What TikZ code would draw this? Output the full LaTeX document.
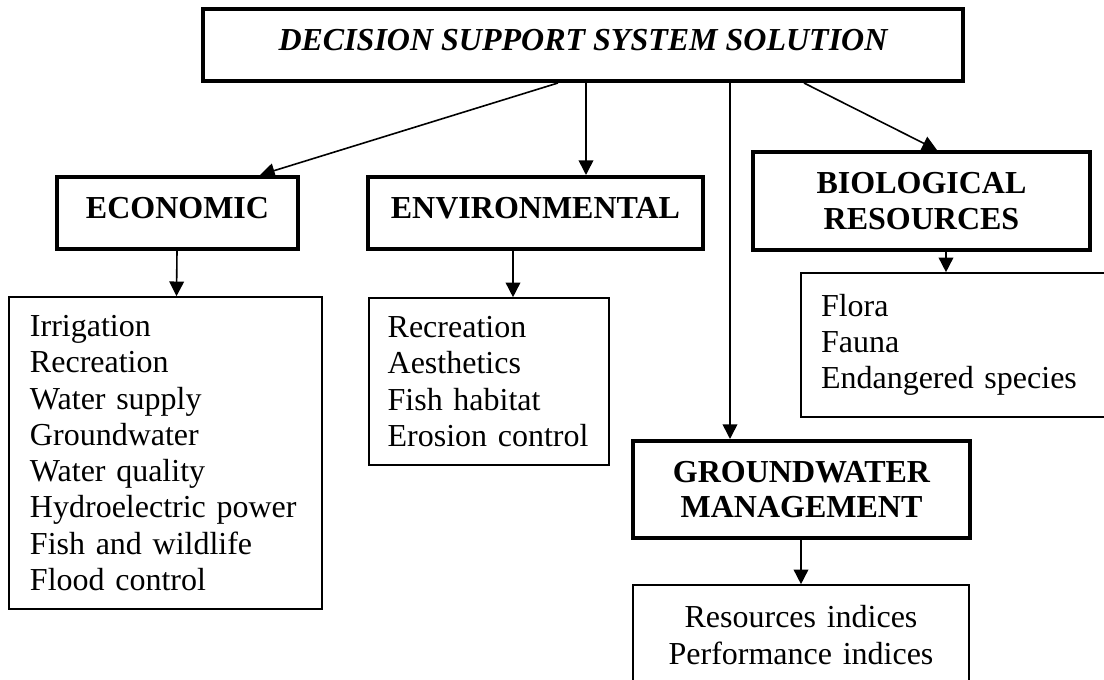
\documentclass[tikz,border=0pt]{standalone}
\usepackage{fontspec}
\setmainfont{Liberation Serif}
\usetikzlibrary{arrows.meta}
\begin{document}
\begin{tikzpicture}[x=0.75pt,y=-0.75pt,
  headbox/.style={draw, line width=3pt, inner sep=0pt, align=center,
    font=\fontsize{24}{26.5}\selectfont\bfseries},
  listbox/.style={draw, line width=1.2pt, inner ysep=0pt, align=left,
    font=\fontsize{24}{27.2}\selectfont},
  arr/.style={line width=1.2pt, -{Triangle[length=11pt,width=11pt]}}]
\useasboundingbox (0,0) rectangle (1104,680);

% heading boxes
\node[headbox, minimum width=570pt, minimum height=54pt, text depth=7pt,
  font=\fontsize{24}{27.2}\selectfont\bfseries\itshape] (top) at (583,45)
  {DECISION SUPPORT SYSTEM SOLUTION};
\node[headbox, minimum width=180.75pt, minimum height=54pt, text depth=7pt]
  (econ) at (177.5,213) {ECONOMIC};
\node[headbox, minimum width=251.25pt, minimum height=54pt, text depth=7pt]
  (env) at (535.5,213) {ENVIRONMENTAL};
\node[headbox, minimum width=252.75pt, minimum height=73.5pt]
  (bio) at (921.5,201) {BIOLOGICAL\\RESOURCES};
\node[headbox, minimum width=252.75pt, minimum height=72.75pt]
  (gw) at (801.5,489.5) {GROUNDWATER\\MANAGEMENT};

% list boxes
\node[listbox, minimum width=234.75pt, minimum height=234pt,
  inner xsep=15.75pt, text width=203.25pt] (econlist) at (165.5,453)
  {Irrigation\\Recreation\\Water supply\\Groundwater\\Water quality\\Hydroelectric power\\Fish and wildlife\\Flood control};
\node[listbox, minimum width=180pt, minimum height=125.25pt,
  inner xsep=14pt, text width=152pt] (envlist) at (489,381.5)
  {Recreation\\Aesthetics\\Fish habitat\\Erosion control};
\node[listbox, minimum width=240pt, minimum height=108pt,
  inner xsep=15pt, text width=210pt] (biolist) at (961,345)
  {Flora\\Fauna\\Endangered species};
\node[listbox, align=center, minimum width=252pt, minimum height=75pt,
  inner xsep=10pt, text width=232pt] (gwlist) at (801,635)
  {Resources indices\\Performance indices};

% connectors
\draw[arr] ([xshift=-18.75pt]top.south) -- ([xshift=61.9pt]econ.north);
\draw[arr] ([xshift=2.25pt]top.south) -- ([xshift=37.875pt]env.north);
\draw[arr] ([xshift=110.25pt]top.south) -- ([xshift=-53.625pt]gw.north);
\draw[arr] ([xshift=165.75pt]top.south) -- ([xshift=11.6pt]bio.north);
\draw[arr] ([xshift=-0.375pt]econ.south) -- ([xshift=8.25pt]econlist.north);
\draw[arr] ([xshift=-16.875pt]env.south) -- ([xshift=18pt]envlist.north);
\draw[arr] ([xshift=18.375pt]bio.south) -- ([xshift=-11.25pt]biolist.north);
\draw[arr] ([xshift=-0.375pt]gw.south) -- (gwlist.north);
\end{tikzpicture}
\end{document}
